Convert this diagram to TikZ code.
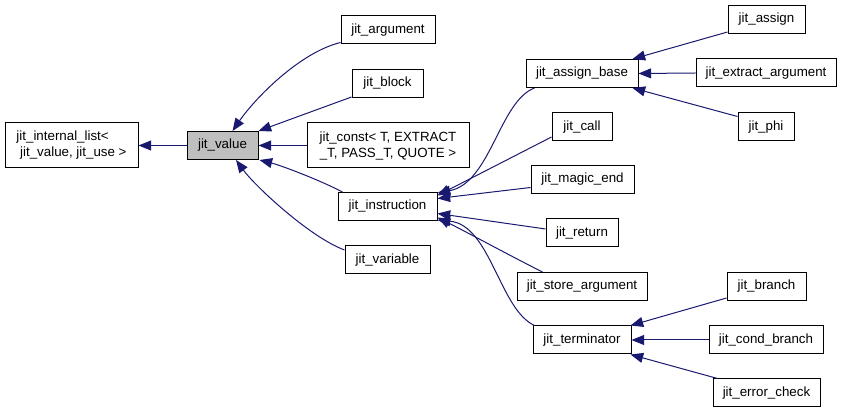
\documentclass[tikz,border=0pt]{standalone}
\usepackage{fontspec}
\setmainfont{Liberation Sans}
\usetikzlibrary{arrows.meta,calc}
\definecolor{edgec}{HTML}{191970}
\definecolor{grayfill}{HTML}{BFBFBF}
\begin{document}
\begin{tikzpicture}[x=0.75pt,y=-0.75pt,
  box/.style={draw=black, line width=0.75pt, fill=white, inner sep=0pt,
    font=\fontsize{10}{12}\selectfont, align=center, minimum height=21pt},
  edge/.style={draw=edgec, line width=0.75pt, -{Triangle[length=9.5pt,width=7.5pt]}}]
\useasboundingbox (0,0) rectangle (843,413);
% nodes
\node[box, minimum width=99.75pt, minimum height=33.75pt, align=left] (ilist) at (71.5,145.5) {jit\_internal\_list<\\\ jit\_value, jit\_use >};
\node[box, fill=grayfill, minimum width=53.25pt] (value) at (222.5,145.5) {jit\_value};
\node[box, minimum width=70.5pt] (arg) at (388,30) {jit\_argument};
\node[box, minimum width=53.25pt] (block) at (387.5,83.5) {jit\_block};
\node[box, minimum width=121.5pt, minimum height=33.75pt] (const) at (388,145.5) {jit\_const< T, EXTRACT\\\_T, PASS\_T, QUOTE >};
\node[box, minimum width=74.25pt] (instr) at (387.5,206.5) {jit\_instruction};
\node[box, minimum width=63.75pt] (var) at (387.5,260) {jit\_variable};
\node[box, minimum width=84pt] (abase) at (582,73.5) {jit\_assign\_base};
\node[box, minimum width=45pt] (call) at (582,127) {jit\_call};
\node[box, minimum width=77.25pt] (magic) at (582.5,179.5) {jit\_magic\_end};
\node[box, minimum width=54pt] (ret) at (582,233) {jit\_return};
\node[box, minimum width=97.5pt] (store) at (582,286.5) {jit\_store\_argument};
\node[box, minimum width=73.5pt] (term) at (582,340) {jit\_terminator};
\node[box, minimum width=57.75pt] (assign) at (766.5,19.5) {jit\_assign};
\node[box, minimum width=105pt] (extract) at (766,73) {jit\_extract\_argument};
\node[box, minimum width=42pt] (phi) at (766,127) {jit\_phi};
\node[box, minimum width=59.25pt] (branch) at (766.5,286.5) {jit\_branch};
\node[box, minimum width=85.5pt] (cond) at (766,340) {jit\_cond\_branch};
\node[box, minimum width=80.25pt] (err) at (766.5,393) {jit\_error\_check};
% edges
\draw[edge] (value.west) -- (ilist.east);
\draw[edge] ($(arg.south west)+(0,-2)$) .. controls +(-41,10) and +(22,-32) .. ($(value.north west)+(46,0)$);
\draw[edge] ($(block.south west)+(0,-1)$) -- (value.north east);
\draw[edge] (const.west) -- (value.east);
\draw[edge] ($(instr.north west)+(5,0)$) .. controls +(-25,-13) and +(20,5) .. ($(value.south east)+(1,0)$);
\draw[edge] ($(var.west)+(0,-10)$) .. controls +(-35,-13) and +(19,26) .. ($(value.south)+(13.5,0)$);
\draw[edge] ($(abase.south west)+(9,0)$) .. controls +(-35,13) and +(53,-10) .. ($(instr.north east)+(0,1)$);
\draw[edge] ($(call.west)+(0,10)$) -- ($(instr.east)+(0,-11)$);
\draw[edge] ($(magic.west)+(0,8)$) -- ($(instr.east)+(0,-8)$);
\draw[edge] ($(ret.west)+(0,-4)$) -- ($(instr.east)+(0,7)$);
\draw[edge] ($(store.north west)+(26,0)$) .. controls +(-30,-15) and +(30,15) .. ($(instr.east)+(0,11)$);
\draw[edge] ($(term.north west)+(2,0)$) .. controls +(-35,-16) and +(53,5) .. ($(instr.south east)+(0,-1)$);
\draw[edge] ($(assign.south west)+(0,-2)$) -- ($(abase.north east)+(-6,0)$);
\draw[edge] (extract.west) -- (abase.east);
\draw[edge] ($(phi.north west)+(0,4)$) -- ($(abase.south east)+(-6,0)$);
\draw[edge] ($(branch.south west)+(0,-3)$) -- ($(term.north east)+(-1,0)$);
\draw[edge] (cond.west) -- (term.east);
\draw[edge] ($(err.north west)+(5,0)$) -- ($(term.south east)+(-1,0)$);
\end{tikzpicture}
\end{document}
